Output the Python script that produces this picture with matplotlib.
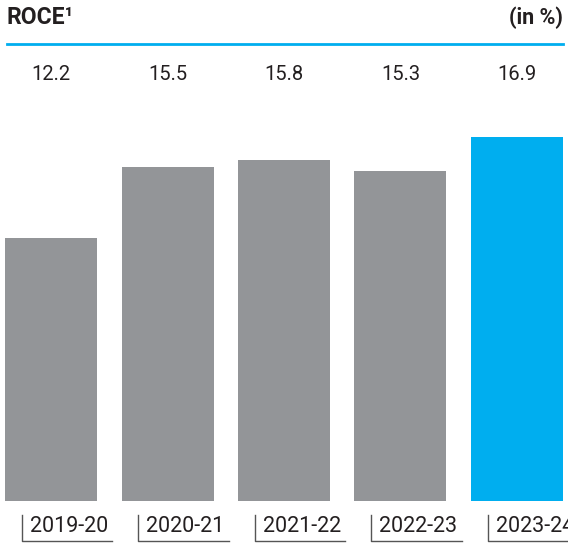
import numpy as np
import matplotlib.pyplot as plt
from matplotlib.transforms import blended_transform_factory

years = ["2019-20", "2020-21", "2021-22", "2022-23", "2023-24"]
roce = [12.2, 15.5, 15.8, 15.3, 16.9]
bar_colors = ["#939598", "#939598", "#939598", "#939598", "#00AEEF"]

TEXT = "#231F20"
plt.rcParams["font.family"] = ["Roboto", "DejaVu Sans"]

W, H = 568, 544
fig = plt.figure(figsize=(W / 100, H / 100), dpi=100)

# axes area in pixels: bars bottom at y=501, top of axes at y=101
ax = fig.add_axes([0, (H - 501) / H, 1, 400 / H])
step = 116.5
x = np.arange(len(years))
ax.bar(x, roce, width=92 / step, color=bar_colors)
ax.set_xlim(-51 / step, (W - 51) / step)
ax.set_ylim(0, 400 / 21.56)
ax.axis("off")

trans = blended_transform_factory(ax.transData, ax.transAxes)
for i, (yr, v) in enumerate(zip(years, roce)):
    ax.text(i, 1.065, f"{v:.1f}", transform=trans, ha="center", va="center",
            fontsize=14.5, color=TEXT)
    # bracket style tick labels
    ax.plot([i - 0.25, i - 0.25, i + 0.525], [-0.035, -0.1, -0.1], transform=trans,
            color="#555555", lw=1, clip_on=False)
    ax.text(i + 0.155, -0.065, yr, transform=trans, ha="center", va="center",
            fontsize=15.5, color=TEXT)

# header
fig.text(7 / W, 1 - 18 / H, "ROCE\u00b9", fontsize=16.5, fontweight="bold",
         color=TEXT, ha="left", va="center")
fig.text(563 / W, 1 - 18 / H, "(in %)", fontsize=15.5, fontweight="bold",
         color=TEXT, ha="right", va="center")
fig.add_artist(plt.Line2D([7 / W, 563 / W], [1 - 44 / H, 1 - 44 / H],
                          color="#00AEEF", lw=2))

fig.savefig("out.png", dpi=100)
